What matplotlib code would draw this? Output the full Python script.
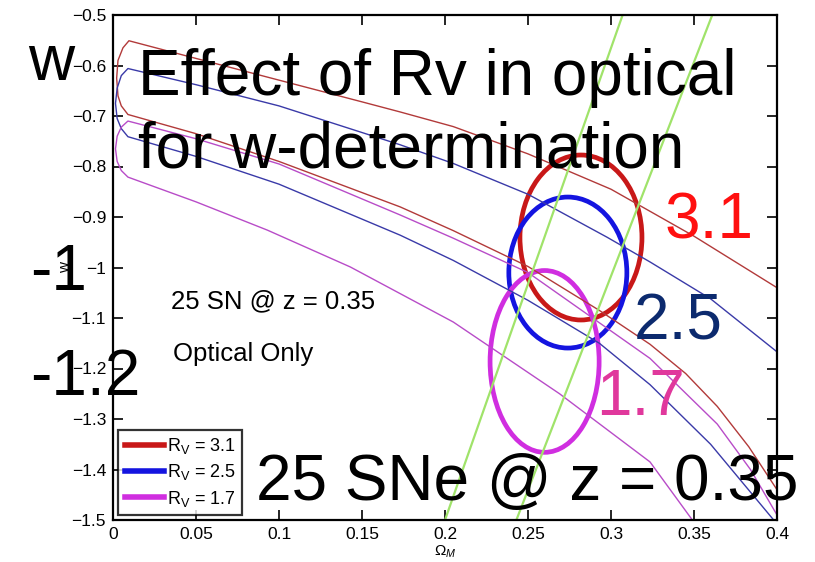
import matplotlib
matplotlib.use('Agg')
import matplotlib.pyplot as plt
from matplotlib.patches import Ellipse
from matplotlib.lines import Line2D

plt.rcParams['font.family'] = ['Liberation Sans', 'DejaVu Sans']
plt.rcParams['mathtext.fontset'] = 'custom'
plt.rcParams['mathtext.rm'] = 'Liberation Sans'
plt.rcParams['mathtext.it'] = 'Liberation Sans:italic'

# constant-distance bands (upper edge, rounded left cap, lower edge)
red_x = [0.4, 0.35, 0.3, 0.25, 0.205, 0.173, 0.15, 0.1, 0.05, 0.0096,
         0.006, 0.003, 0.0022, 0.003, 0.005, 0.009,
         0.05, 0.1, 0.173, 0.205, 0.25, 0.293, 0.3235, 0.345, 0.364, 0.383, 0.4]
red_y = [-1.04, -0.938, -0.845, -0.775, -0.721, -0.692, -0.672, -0.629, -0.586, -0.551,
         -0.565, -0.59, -0.625, -0.66, -0.68, -0.697,
         -0.735, -0.79, -0.88, -0.927, -0.998, -1.085, -1.152, -1.21, -1.275, -1.355, -1.44]

blue_x = [0.4, 0.36, 0.3235, 0.2976, 0.25, 0.205, 0.173, 0.1, 0.05, 0.009,
          0.005, 0.0025, 0.0015, 0.0025, 0.005, 0.009,
          0.05, 0.1, 0.173, 0.205, 0.25, 0.293, 0.3235, 0.36, 0.398]
blue_y = [-1.167, -1.062, -0.989, -0.94, -0.855, -0.794, -0.757, -0.68, -0.638, -0.606,
          -0.62, -0.645, -0.675, -0.705, -0.725, -0.741,
          -0.78, -0.835, -0.936, -0.986, -1.065, -1.15, -1.232, -1.35, -1.5]

mag_x = [0.4, 0.384, 0.364, 0.3235, 0.25, 0.205, 0.173, 0.1, 0.05, 0.009,
         0.005, 0.0025, 0.0015, 0.0025, 0.005, 0.009,
         0.05, 0.093, 0.143, 0.205, 0.269, 0.3235, 0.349]
mag_y = [-1.49, -1.40, -1.31, -1.18, -1.01, -0.942, -0.896, -0.795, -0.745, -0.71,
         -0.722, -0.74, -0.765, -0.79, -0.808, -0.821,
         -0.87, -0.926, -0.999, -1.108, -1.25, -1.385, -1.5]

# Omega_M - w degeneracy lines
green1_x = [0.2, 0.307]
green1_y = [-1.5, -0.5]
green2_x = [0.243, 0.361]
green2_y = [-1.5, -0.5]

# error ellipses: centre x, centre y, width, height
ell_red = (0.2819, -0.9406, 0.0735, 0.3267)
ell_blue = (0.274, -1.010, 0.0711, 0.299)
ell_mag = (0.26, -1.186, 0.0657, 0.36)

rv_labels = ['$\\mathregular{R_V}$ = 3.1', '$\\mathregular{R_V}$ = 2.5',
             '$\\mathregular{R_V}$ = 1.7']

xticks = [0, 0.05, 0.1, 0.15, 0.2, 0.25, 0.3, 0.35, 0.4]
xticklabels = ['0', '0.05', '0.1', '0.15', '0.2', '0.25', '0.3', '0.35', '0.4']
yticks = [-0.5, -0.6, -0.7, -0.8, -0.9, -1.0, -1.1, -1.2, -1.3, -1.4, -1.5]
yticklabels = ['\u22120.5', '\u22120.6', '\u22120.7', '\u22120.8', '\u22120.9', '\u22121',
               '\u22121.1', '\u22121.2', '\u22121.3', '\u22121.4', '\u22121.5']

W, H = 815, 562
fig = plt.figure(figsize=(W / 100, H / 100), dpi=100)
ax = fig.add_axes([113 / W, 1 - 520 / H, 664 / W, 505 / H])

ax.plot(red_x, red_y, color='#b23a3a', lw=1.0)
ax.plot(blue_x, blue_y, color='#3a3aa8', lw=1.0)
ax.plot(mag_x, mag_y, color='#b84cc8', lw=1.0)
ax.plot(green1_x, green1_y, color='#a0e36a', lw=1.6)
ax.plot(green2_x, green2_y, color='#a0e36a', lw=1.6)

for (cx, cy, w, h), c in [(ell_red, '#c81818'), (ell_blue, '#1414e0'), (ell_mag, '#d02ee0')]:
    ax.add_patch(Ellipse((cx, cy), w, h, fill=False, edgecolor=c, lw=3.4))

ax.set_xlim(0, 0.4)
ax.set_ylim(-1.5, -0.5)
ax.set_xticks(xticks)
ax.set_xticklabels(xticklabels)
ax.set_yticks(yticks)
ax.set_yticklabels(yticklabels)
ax.tick_params(direction='in', length=7, width=1.2, top=True, right=True,
               labelsize=12.5, pad=5)
for s in ax.spines.values():
    s.set_linewidth(1.6)
ax.set_xlabel('$\\Omega_M$', fontsize=11, labelpad=1)
ax.set_ylabel('w', fontsize=11, labelpad=0)

handles = [Line2D([], [], color=c, lw=4) for c in ['#c81818', '#1414e0', '#d02ee0']]
leg = ax.legend(handles, rv_labels, loc='lower left', fontsize=13, frameon=True,
                fancybox=False, edgecolor='black', handlelength=2.2,
                handletextpad=0.15, borderpad=0.35, labelspacing=0.35,
                borderaxespad=0, bbox_to_anchor=(0.008, 0.01))
leg.get_frame().set_linewidth(1.6)

ax.text(0.035, -1.066, '25 SN @ z = 0.35', fontsize=18.5, va='center')
ax.text(0.036, -1.171, 'Optical Only', fontsize=18.5, va='center')


def ftxt(x, y, s, color='black'):
    fig.text(x / W, 1 - y / H, s, fontsize=46, color=color, va='baseline', ha='left')


ftxt(28, 80, 'w')
ftxt(138, 95, 'Effect of Rv in optical')
ftxt(138, 168, 'for w-determination')
ftxt(30, 290, '-1')
ftxt(30, 395, '-1.2')
ftxt(665, 238, '3.1', '#ff1010')
ftxt(634, 340, '2.5', '#0c2a6e')
ftxt(596, 415, '1.7', '#e0389c')
ftxt(256, 500, '25 SNe @ z = 0.35')

fig.savefig('out.png', dpi=100)
